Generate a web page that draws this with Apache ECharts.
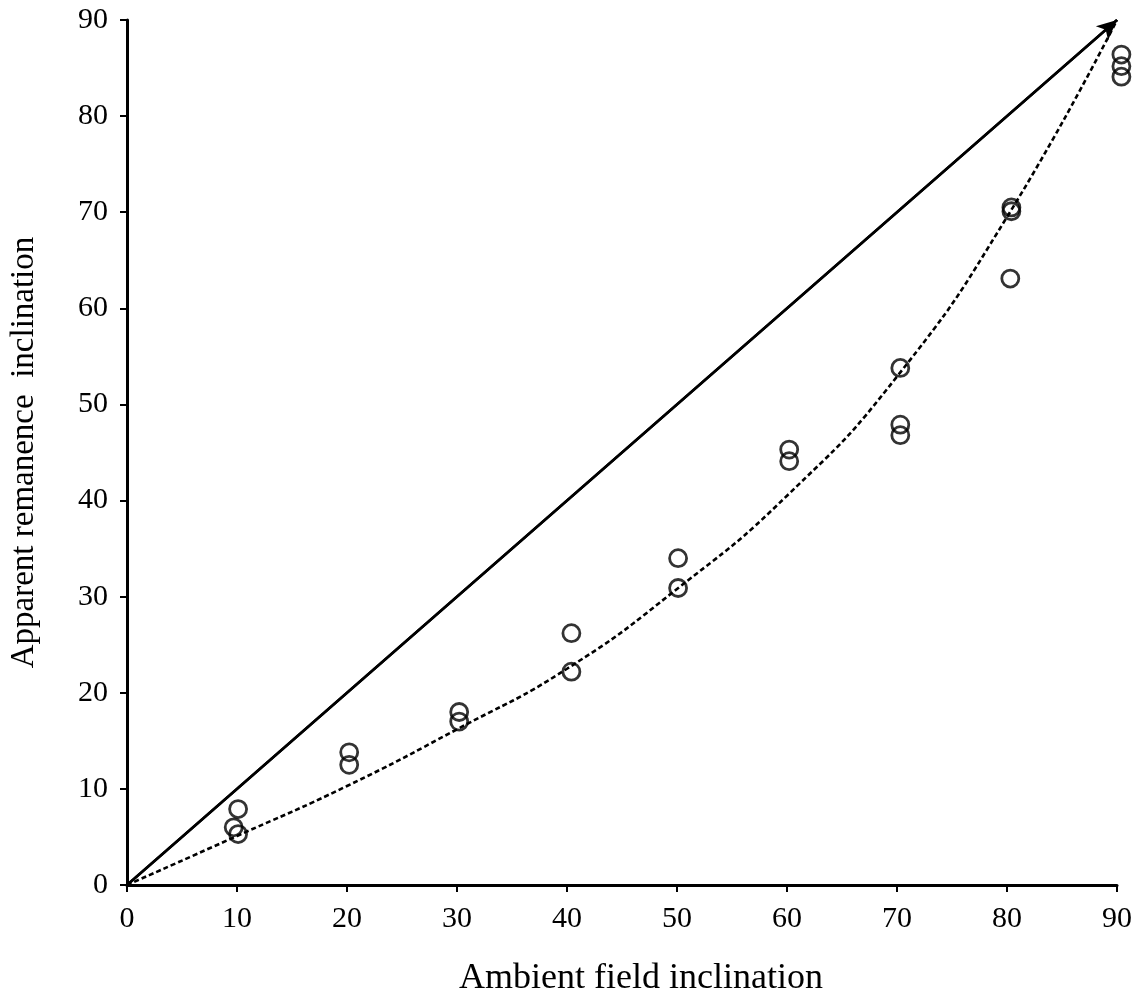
<!DOCTYPE html>
<html>
<head>
<meta charset="utf-8">
<script src="https://cdn.jsdelivr.net/npm/echarts@6/dist/echarts.min.js"></script>
<style>
  html, body { margin: 0; padding: 0; background: #fff; }
  #chart { width: 1137px; height: 1002px; }
</style>
</head>
<body>
<div id="chart"></div>
<script>
// measured points (ambient field inclination, apparent remanence inclination)
var pointsX = [9.7, 10.1, 10.1, 20.2, 20.2, 30.2, 30.2, 40.4, 40.4, 50.1, 50.1,
               60.2, 60.2, 70.3, 70.3, 70.3, 80.4, 80.4, 80.3, 90.4, 90.4, 90.4];
var pointsY = [6.0, 7.9, 5.3, 13.8, 12.5, 18.0, 17.0, 26.2, 22.2, 34.0, 30.9,
               45.3, 44.1, 53.8, 47.9, 46.8, 70.5, 70.1, 63.1, 86.4, 85.2, 84.1];

// dashed trend curve
var curveX = [0, 10, 20, 30, 40, 50, 60, 70, 80, 90];
var curveY = [0, 5.1, 10.3, 16.2, 22.5, 30.8, 40.5, 52.9, 69.5, 90];

// 1:1 reference line
var lineX = [0, 90];
var lineY = [0, 90];

function pairs(xs, ys) {
    var out = [];
    for (var i = 0; i < xs.length; i++) {
        out.push([xs[i], ys[i]]);
    }
    return out;
}

var font = 'Liberation Serif';
var chart = echarts.init(document.getElementById('chart'));

var option = {
    animation: false,
    grid: { left: 127, right: 20, top: 20, bottom: 116, containLabel: false },
    xAxis: {
        type: 'value', min: 0, max: 90, interval: 10,
        name: 'Ambient field inclination',
        nameLocation: 'middle', nameGap: 76,
        nameTextStyle: { fontFamily: font, fontSize: 36, color: '#000', padding: [0, 0, 0, 38] },
        axisLine: { lineStyle: { color: '#000', width: 3 } },
        axisTick: { show: true, inside: false, length: 7, lineStyle: { color: '#000', width: 2 } },
        axisLabel: { fontFamily: font, fontSize: 30, color: '#000', margin: 19 },
        splitLine: { show: false }
    },
    yAxis: {
        type: 'value', min: 0, max: 90, interval: 10,
        name: 'Apparent remanence  inclination',
        nameLocation: 'middle', nameGap: 86,
        nameTextStyle: { fontFamily: font, fontSize: 33, color: '#000' },
        axisLine: { show: true, lineStyle: { color: '#000', width: 3 } },
        axisTick: { show: true, inside: false, length: 7, lineStyle: { color: '#000', width: 2 } },
        axisLabel: { fontFamily: font, fontSize: 30, color: '#000', margin: 19 },
        splitLine: { show: false }
    },
    series: [
        {
            type: 'line',
            data: pairs(lineX, lineY),
            symbol: 'none',
            lineStyle: { color: '#000', width: 2.5 },
            z: 2,
            markLine: {
                silent: true,
                symbol: ['none', 'arrow'],
                symbolSize: [14, 20],
                label: { show: false },
                lineStyle: { color: '#000', width: 2.5, type: 'solid' },
                data: [[{ coord: [lineX[0], lineY[0]] }, { coord: [lineX[1], lineY[1]] }]]
            }
        },
        {
            type: 'line',
            data: pairs(curveX, curveY),
            smooth: true,
            symbol: 'none',
            lineStyle: { color: '#000', width: 2.6, type: [5, 3] },
            z: 2
        },
        {
            type: 'scatter',
            data: pairs(pointsX, pointsY),
            clip: false,
            symbol: 'circle',
            symbolSize: 17,
            itemStyle: { color: 'rgba(255,255,255,0)', borderColor: '#000', borderWidth: 2.8 },
            z: 3
        }
    ]
};

chart.setOption(option);
</script>
</body>
</html>
